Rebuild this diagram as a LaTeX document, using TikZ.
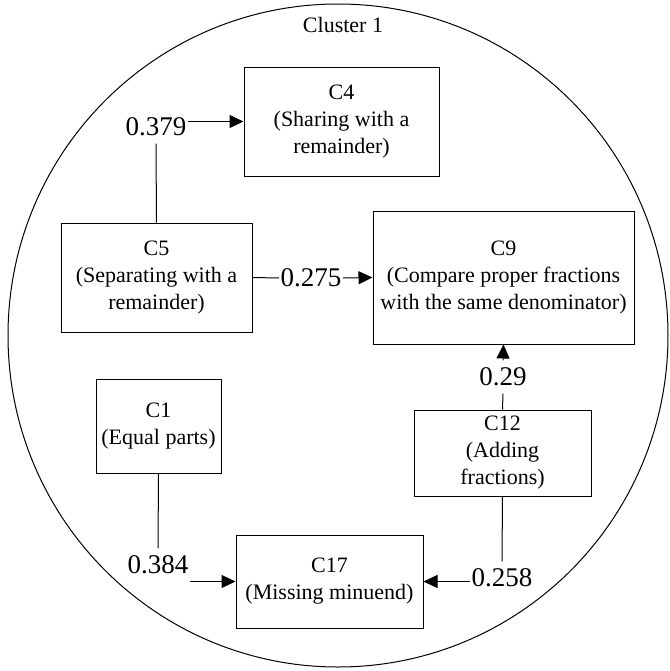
\documentclass[tikz,border=0pt]{standalone}
\usepackage{fontspec}
\setmainfont{Liberation Serif}
\usetikzlibrary{arrows.meta}

\begin{document}
\begin{tikzpicture}[x=0.5pt,y=-0.5pt,line width=0.5pt,
  concept/.style={draw,align=center,inner sep=0pt,font=\fontsize{11}{13.5}\selectfont},
  weight/.style={inner xsep=0.5pt,inner ysep=3.5pt,font=\fontsize{13.5}{15}\selectfont},
  link/.style={-{Triangle[length=7pt,width=6.5pt]}}]
\useasboundingbox (0,0) rectangle (670,671);
% cluster outline
\draw (338,335.5) ellipse [x radius=165pt,y radius=165.75pt];
\node[font=\fontsize{11}{13.5}\selectfont] (cluster) at (343,25) {Cluster 1};
% concepts
\node[concept,minimum width=97.5pt,minimum height=54.5pt] (c4) at (341.5,121.5) {C4\\(Sharing with a\\remainder)};
\node[concept,minimum width=95.5pt,minimum height=54.5pt] (c5) at (156.5,277.5) {C5\\(Separating with a\\remainder)};
\node[concept,minimum width=130.5pt,minimum height=66.5pt] (c9) at (503.5,277.5) {C9\\(Compare proper fractions\\with the same denominator)};
\node[concept,minimum width=62.5pt,minimum height=47pt] (c1) at (158.5,426) {C1\\(Equal parts)};
\node[concept,minimum width=88.5pt,minimum height=43pt] (c12) at (502.5,453) {C12\\(Adding\\fractions)};
\node[concept,minimum width=93.5pt,minimum height=46.5pt] (c17) at (329.5,581.5) {C17\\(Missing minuend)};
% weights
\node[weight] (w379) at (156,127) {0.379};
\node[weight] (w275) at (311,278) {0.275};
\node[weight] (w29) at (503,377) {0.29};
\node[weight] (w384) at (158,565) {0.384};
\node[weight] (w258) at (502,578) {0.258};
% links
\draw (c5.north) -- (w379.south);
\draw[link] (w379.east |- c4.west) -- (c4.west);
\draw (c5.east) -- (w275.west);
\draw[link] (w275.east) -- (c9.west);
\draw (c12.north) -- (w29.south);
\draw[link] (w29.north) -- (c9.south);
\draw (c1.south) -- (w384.north);
\draw[link] (w384.east |- c17.west) -- (c17.west);
\draw (c12.south) -- (w258.north);
\draw[link] (w258.west |- c17.east) -- (c17.east);
\end{tikzpicture}
\end{document}
